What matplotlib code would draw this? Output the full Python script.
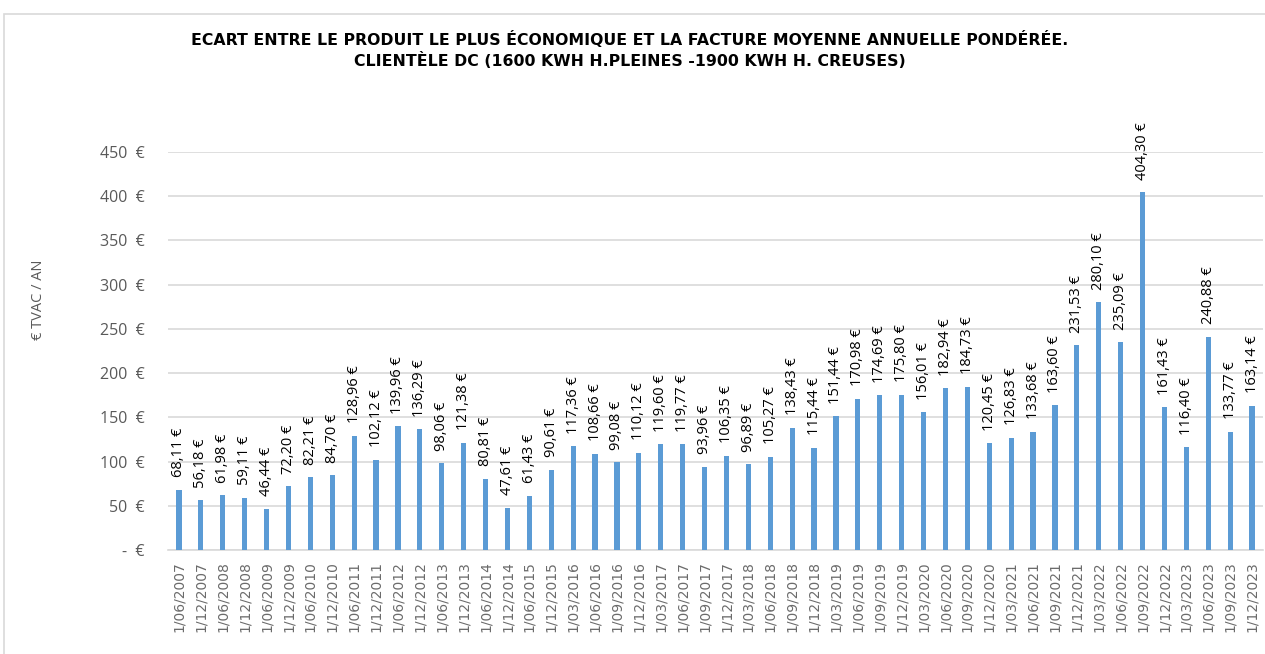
import matplotlib
matplotlib.use("Agg")
import matplotlib.pyplot as plt
from matplotlib.patches import Rectangle

dates = ["1/06/2007", "1/12/2007", "1/06/2008", "1/12/2008", "1/06/2009", "1/12/2009",
         "1/06/2010", "1/12/2010", "1/06/2011", "1/12/2011", "1/06/2012", "1/12/2012",
         "1/06/2013", "1/12/2013", "1/06/2014", "1/12/2014", "1/06/2015", "1/12/2015",
         "1/03/2016", "1/06/2016", "1/09/2016", "1/12/2016",
         "1/03/2017", "1/06/2017", "1/09/2017", "1/12/2017",
         "1/03/2018", "1/06/2018", "1/09/2018", "1/12/2018",
         "1/03/2019", "1/06/2019", "1/09/2019", "1/12/2019",
         "1/03/2020", "1/06/2020", "1/09/2020", "1/12/2020",
         "1/03/2021", "1/06/2021", "1/09/2021", "1/12/2021",
         "1/03/2022", "1/06/2022", "1/09/2022", "1/12/2022",
         "1/03/2023", "1/06/2023", "1/09/2023", "1/12/2023"]

ecart = [68.11, 56.18, 61.98, 59.11, 46.44, 72.20,
         82.21, 84.70, 128.96, 102.12, 139.96, 136.29,
         98.06, 121.38, 80.81, 47.61, 61.43, 90.61,
         117.36, 108.66, 99.08, 110.12,
         119.60, 119.77, 93.96, 106.35,
         96.89, 105.27, 138.43, 115.44,
         151.44, 170.98, 174.69, 175.80,
         156.01, 182.94, 184.73, 120.45,
         126.83, 133.68, 163.60, 231.53,
         280.10, 235.09, 404.30, 161.43,
         116.40, 240.88, 133.77, 163.14]

y_ticks = [0, 50, 100, 150, 200, 250, 300, 350, 400, 450]
y_tick_labels = ["-  €", "50  €", "100  €", "150  €", "200  €", "250  €",
                 "300  €", "350  €", "400  €", "450  €"]

title = ("ECART ENTRE LE PRODUIT LE PLUS ÉCONOMIQUE ET LA FACTURE MOYENNE ANNUELLE PONDÉRÉE.\n"
         "CLIENTÈLE DC (1600 KWH H.PLEINES -1900 KWH H. CREUSES)")
y_label = "€ TVAC / AN"

bar_color = "#5b9bd5"
grid_color = "#d9d9d9"
text_gray = "#595959"

fig = plt.figure(figsize=(12.65, 6.54), dpi=100)
fig.patches.append(Rectangle((4 / 1265, -0.01), 1.02, 1 - 14 / 654 + 0.01,
                             transform=fig.transFigure, fill=False,
                             edgecolor="#d9d9d9", linewidth=1.2))

ax = fig.add_axes([168 / 1265, 1 - 550 / 654, (1263 - 168) / 1265, (550 - 152) / 654])

x = list(range(len(ecart)))
ax.bar(x, ecart, width=0.24, color=bar_color, zorder=3)

for xi, v in zip(x, ecart):
    lbl = f"{v:.2f}".replace(".", ",") + " €"
    ax.annotate(lbl, (xi, v), xytext=(0, 9), textcoords="offset points",
                rotation=90, ha="center", va="bottom", fontsize=10.5,
                family="Open Sans", color="#000000")

ax.set_xlim(-0.5, len(ecart) - 0.5)
ax.set_ylim(0, 450)
ax.set_yticks(y_ticks)
ax.set_yticklabels(y_tick_labels, fontsize=11.5, color=text_gray, family="Open Sans")
ax.set_xticks(x)
ax.set_xticklabels(dates, rotation=90, fontsize=10, color="#6b6b6b", family="DejaVu Sans")
ax.tick_params(axis="both", length=0)
ax.tick_params(axis="y", pad=17)
ax.tick_params(axis="x", pad=8)
ax.yaxis.grid(True, color=grid_color, linewidth=1.2, zorder=0)
for s in ["top", "right", "left"]:
    ax.spines[s].set_visible(False)
ax.spines["bottom"].set_color(grid_color)
ax.spines["bottom"].set_linewidth(1.2)

fig.text(38 / 1265, 1 - 300 / 654, y_label, rotation=90, ha="center", va="center",
         fontsize=10.5, color=text_gray, family="Open Sans")

fig.text(630 / 1265, 1 - 50 / 654, title, ha="center", va="center", fontsize=11.3,
         fontweight="bold", family="DejaVu Sans", color="#000000", linespacing=1.3)

fig.savefig("out.png", dpi=100)
